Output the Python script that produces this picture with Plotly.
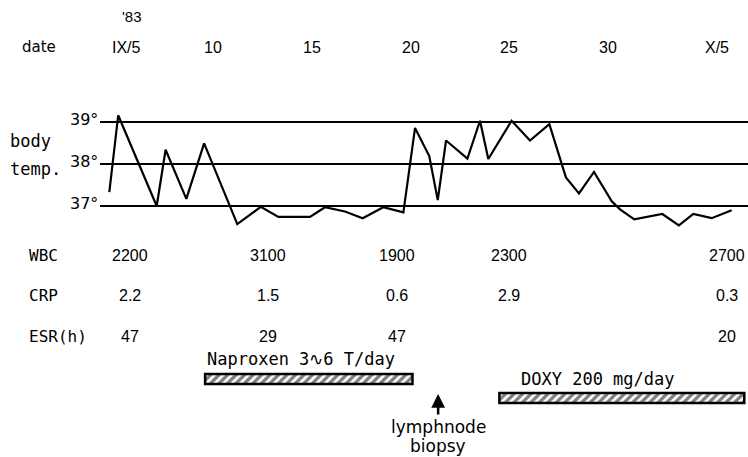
import plotly.graph_objects as go

# ---------------- data ----------------
temp_day = [4.75, 5.2, 6.1, 7.15, 7.6, 8.65, 9.55, 11.23, 12.42, 13.31, 14.91, 15.67,
            16.68, 17.58, 18.62, 19.64, 20.23, 20.95, 21.38, 21.8, 22.88, 23.52, 23.94,
            25.12, 26.05, 27.03, 27.87, 28.53, 29.29, 30.19, 30.61, 31.33, 32.75, 33.59,
            34.32, 35.25, 36.26]
temp_c = [37.33, 39.16, 38.16, 37.0, 38.34, 37.17, 38.49, 36.57, 36.98, 36.74, 36.74, 36.97,
          36.87, 36.71, 36.97, 36.85, 38.86, 38.19, 37.14, 38.56, 38.13, 39.03, 38.12,
          39.03, 38.56, 38.95, 37.68, 37.30, 37.81, 37.11, 36.92, 36.68, 36.81, 36.54,
          36.81, 36.71, 36.90]

ref_temps = [37, 38, 39]
ref_labels = ["37°", "38°", "39°"]

date_days = [5, 10, 15, 20, 25, 30, 35]
date_labels = ["IX/5", "10", "15", "20", "25", "30", "X/5"]

lab_days = [5.8, 12.8, 19.3, 25.0, 36.0]
wbc = ["2200", "3100", "1900", "2300", "2700"]
crp = ["2.2", "1.5", "0.6", "2.9", "0.3"]
esr = ["47", "29", "47", "", "20"]

drugs = ["Naproxen 3∿6 T/day", "DOXY 200 mg/day"]
drug_start = [9.6, 24.5]
drug_end = [20.1, 36.9]

biopsy_day = 21.4
biopsy_text = ["lymphnode", "biopsy"]

# ---------------- figure ----------------
W, H = 748, 457
PX_PER_DAY = 19.75
X_RANGE = [10 - 213 / PX_PER_DAY, 10 + (W - 213) / PX_PER_DAY]
PX_PER_DEG = 42
Y_RANGE = [37 - (H - 206) / PX_PER_DEG, 39 + 122 / PX_PER_DEG]
LINE_START = 10 - 113 / PX_PER_DAY

NUM_FONT = "Liberation Sans Narrow, Liberation Sans, Arial, sans-serif"
MONO_FONT = "DejaVu Sans Mono, monospace"
SANS_FONT = "DejaVu Sans, sans-serif"

fig = go.Figure()

# reference temperature lines
for t in ref_temps:
    fig.add_trace(go.Scatter(x=[LINE_START, X_RANGE[1] + 1], y=[t, t], mode="lines",
                             line=dict(color="black", width=2), hoverinfo="skip",
                             showlegend=False))

# body temperature curve
fig.add_trace(go.Scatter(x=temp_day, y=temp_c, mode="lines",
                         line=dict(color="black", width=2.2), showlegend=False))

# drug bars (hatched)
fig.add_trace(go.Bar(
    y=[0, 1], x=[e - s for s, e in zip(drug_start, drug_end)], base=drug_start,
    orientation="h", width=0.53, yaxis="y2",
    marker=dict(color="white", line=dict(color="black", width=2.5),
                pattern=dict(shape="/", fgcolor="black", bgcolor="white",
                             size=6, solidity=0.55)),
    showlegend=False))

fig.update_layout(
    width=W, height=H, autosize=False,
    margin=dict(l=0, r=0, t=0, b=0),
    paper_bgcolor="white", plot_bgcolor="white",
    xaxis=dict(range=X_RANGE, visible=False, fixedrange=True),
    yaxis=dict(range=Y_RANGE, visible=False, fixedrange=True),
    yaxis2=dict(range=[(H - 379) / 19, -379 / 19], overlaying="y", visible=False,
                fixedrange=True),
    showlegend=False,
)

ann = []
def py(p):
    return 1 - p / H

def txt(x, y, text, font, size, xref="paper", yref="paper", xanchor="center", **kw):
    d = dict(x=x, y=y, xref=xref, yref=yref, text=text, xanchor=xanchor,
             yanchor="middle", showarrow=False,
             font=dict(family=font, size=size, color="black"))
    d.update(kw)
    ann.append(d)

# year and date row
txt(120 / W, py(17), "'83", NUM_FONT, 15, xanchor="left")
txt(20 / W, py(47), "date", SANS_FONT, 15, xanchor="left")
for d, lab in zip(date_days, date_labels):
    edge = lab in ("IX/5", "X/5")
    txt(d, py(47), lab, NUM_FONT, 16, xref="x",
        xanchor="left" if edge else "center", xshift=-4 if edge else 0)

# body temp labels
txt(8 / W, py(141), "body", MONO_FONT, 17, xanchor="left")
txt(8 / W, py(169), "temp.", MONO_FONT, 17, xanchor="left")
for t, lab in zip(ref_temps, ref_labels):
    txt(LINE_START, t, lab, SANS_FONT, 16, xref="x", yref="y", xanchor="right", yshift=3)

# lab rows
rows = [("WBC", wbc, 255), ("CRP", crp, 295), ("ESR(h)", esr, 336)]
for name, vals, ypx in rows:
    txt(27 / W, py(ypx), name, MONO_FONT, 16, xanchor="left")
    for d, v in zip(lab_days, vals):
        if v:
            txt(d, py(ypx), v, NUM_FONT, 16, xref="x")

# drug labels
txt(drug_start[0], 0, drugs[0], MONO_FONT, 17, xref="x", yref="y2", xanchor="left",
    yshift=20)
txt(drug_start[1], 1, drugs[1], MONO_FONT, 17, xref="x", yref="y2", xanchor="left",
    xshift=20, yshift=19)

# biopsy arrow and label
ann.append(dict(x=biopsy_day, y=py(394), xref="x", yref="paper", ax=0, ay=22,
                text="", showarrow=True, arrowhead=2, arrowsize=1.1, arrowwidth=2.5,
                arrowcolor="black", standoff=0))
txt(biopsy_day, py(427), biopsy_text[0], SANS_FONT, 17, xref="x")
txt(biopsy_day, py(446), biopsy_text[1], SANS_FONT, 17, xref="x")

fig.update_layout(annotations=ann)
fig.write_html("out.html", config={"displayModeBar": False},
               post_script="document.body.style.margin='0';")
